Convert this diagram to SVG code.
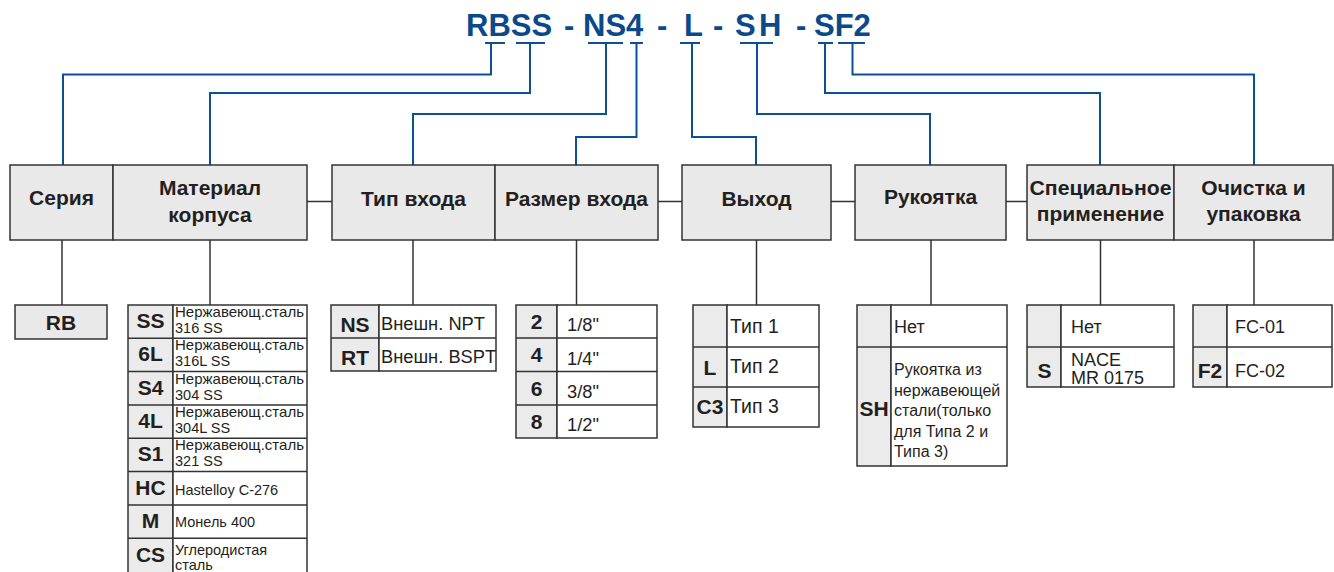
<svg xmlns="http://www.w3.org/2000/svg" width="1334" height="572" viewBox="0 0 1334 572">
<style>
.bg{fill:#ffffff}
.hdr{fill:#e9e9e9;stroke:#333;stroke-width:1.5}
.cell{fill:#ffffff;stroke:#333;stroke-width:1.5}
.code{fill:#ebebeb;stroke:#333;stroke-width:1.5}
.blue{fill:none;stroke:#0b4f94;stroke-width:2}
.gray{fill:none;stroke:#333;stroke-width:1.5}
.title{font-family:"Liberation Sans",Arial,sans-serif;font-weight:bold;font-size:31px;fill:#0b4a8a}
.ht{font-family:"Liberation Sans",Arial,sans-serif;font-weight:bold;font-size:21px;fill:#231f20;text-anchor:middle}
.ct{font-family:"Liberation Sans",Arial,sans-serif;font-weight:bold;font-size:21px;fill:#231f20;text-anchor:middle}
.dt{font-family:"Liberation Sans",Arial,sans-serif;font-size:18.3px;fill:#231f20}
.dm{font-family:"Liberation Sans",Arial,sans-serif;font-size:14.5px;fill:#231f20}
.dh{font-family:"Liberation Sans",Arial,sans-serif;font-size:16px;fill:#231f20}
.d18{font-family:"Liberation Sans",Arial,sans-serif;font-size:18px;fill:#231f20}
.d19{font-family:"Liberation Sans",Arial,sans-serif;font-size:19.5px;fill:#231f20}
</style>
<rect class="bg" x="0" y="0" width="1334" height="572"/>

<g id="title">
<text class="title" x="466" y="36">RBSS</text>
<text class="title" x="564" y="36">-</text>
<text class="title" x="583" y="36">NS4</text>
<text class="title" x="657" y="36">-</text>
<text class="title" x="684" y="36">L</text>
<text class="title" x="713" y="36">-</text>
<text class="title" x="735" y="36">S</text>
<text class="title" x="759" y="36">H</text>
<text class="title" x="796" y="36">-</text>
<text class="title" x="814" y="36">SF2</text>
</g>

<g id="connectors">
<path class="blue" d="M485 43H505M491 43V74.5H63V165"/>
<path class="blue" d="M516 43H545M530 43V93H210V165"/>
<path class="blue" d="M588 43H623M606 43V114H413V165"/>
<path class="blue" d="M630 43H643M636.5 43V137H576V165"/>
<path class="blue" d="M680 43H700M692 43V137H756V165"/>
<path class="blue" d="M740 43H773M757 43V114H930V165"/>
<path class="blue" d="M818 43H833M825 43V93H1100V165"/>
<path class="blue" d="M838 43H865M852.5 43V74.5H1254V165"/>
<path class="gray" d="M307 201.5H332M658 201.5H682M831 201.5H855M1006 201.5H1027"/>
<path class="gray" d="M62 240V305M210 240V305M413 240V305M576.5 240V305M756.5 240V305M931 240V305M1100.5 240V305M1254 240V305"/>
</g>

<g id="hdr-seria">
<rect class="hdr" x="10" y="165" width="103" height="75"/>
<text class="ht" x="61.5" y="205">Серия</text>
</g>
<g id="hdr-material">
<rect class="hdr" x="113" y="165" width="194" height="75"/>
<text class="ht" x="210" y="195">Материал</text>
<text class="ht" x="210" y="222">корпуса</text>
</g>
<g id="hdr-inlettype">
<rect class="hdr" x="332" y="165" width="163" height="75"/>
<text class="ht" x="413.5" y="206">Тип входа</text>
</g>
<g id="hdr-inletsize">
<rect class="hdr" x="495" y="165" width="163" height="75"/>
<text class="ht" x="576.5" y="206">Размер входа</text>
</g>
<g id="hdr-outlet">
<rect class="hdr" x="682" y="165" width="149" height="75"/>
<text class="ht" x="756.5" y="206">Выход</text>
</g>
<g id="hdr-handle">
<rect class="hdr" x="855" y="165" width="151" height="75"/>
<text class="ht" x="930.5" y="204">Рукоятка</text>
</g>
<g id="hdr-special">
<rect class="hdr" x="1027" y="165" width="147" height="75"/>
<text class="ht" x="1100.5" y="195" textLength="142" lengthAdjust="spacingAndGlyphs">Специальное</text>
<text class="ht" x="1100.5" y="221">применение</text>
</g>
<g id="hdr-clean">
<rect class="hdr" x="1174" y="165" width="159" height="75"/>
<text class="ht" x="1253.5" y="195">Очистка и</text>
<text class="ht" x="1253.5" y="221">упаковка</text>
</g>

<g id="opt-seria">
<rect class="hdr" x="15" y="305" width="92" height="34"/>
<text class="ct" x="61" y="330">RB</text>
</g>

<g id="opt-material">
<rect class="code" x="128" y="305" width="45" height="270"/>
<rect class="cell" x="173" y="305" width="134" height="270"/>
<path class="gray" d="M128 338.3H307M128 371.6H307M128 405H307M128 438.3H307M128 471.6H307M128 505H307M128 538.3H307"/>
<text class="ct" x="150.5" y="328">SS</text>
<text class="dm" x="175" y="317" textLength="129" lengthAdjust="spacingAndGlyphs">Нержавеющ.сталь</text>
<text class="dm" x="175" y="333">316 SS</text>
<text class="ct" x="150.5" y="361.3">6L</text>
<text class="dm" x="175" y="350.3" textLength="129" lengthAdjust="spacingAndGlyphs">Нержавеющ.сталь</text>
<text class="dm" x="175" y="366.3">316L SS</text>
<text class="ct" x="150.5" y="394.6">S4</text>
<text class="dm" x="175" y="383.6" textLength="129" lengthAdjust="spacingAndGlyphs">Нержавеющ.сталь</text>
<text class="dm" x="175" y="399.6">304 SS</text>
<text class="ct" x="150.5" y="428">4L</text>
<text class="dm" x="175" y="417" textLength="129" lengthAdjust="spacingAndGlyphs">Нержавеющ.сталь</text>
<text class="dm" x="175" y="433">304L SS</text>
<text class="ct" x="150.5" y="461.3">S1</text>
<text class="dm" x="175" y="450.3" textLength="129" lengthAdjust="spacingAndGlyphs">Нержавеющ.сталь</text>
<text class="dm" x="175" y="466.3">321 SS</text>
<text class="ct" x="150.5" y="495">HC</text>
<text class="dm" x="175" y="495">Hastelloy C-276</text>
<text class="ct" x="150.5" y="528.3">M</text>
<text class="dm" x="175" y="527.3">Монель 400</text>
<text class="ct" x="150.5" y="562">CS</text>
<text class="dm" x="175" y="555">Углеродистая</text>
<text class="dm" x="175" y="570">сталь</text>
</g>

<g id="opt-inlettype">
<rect class="code" x="331" y="305" width="48" height="66"/>
<rect class="cell" x="379" y="305" width="117" height="66"/>
<path class="gray" d="M331 338H496"/>
<text class="ct" x="355" y="332">NS</text>
<text class="dt" x="381" y="330">Внешн. NPT</text>
<text class="ct" x="355" y="365">RT</text>
<text class="dt" x="381" y="363">Внешн. BSPT</text>
</g>

<g id="opt-inletsize">
<rect class="code" x="516" y="305" width="41" height="133"/>
<rect class="cell" x="557" y="305" width="100" height="133"/>
<path class="gray" d="M516 338H657M516 371.5H657M516 405H657"/>
<text class="ct" x="536.5" y="329">2</text>
<text class="dt" x="567" y="331">1/8"</text>
<text class="ct" x="536.5" y="362">4</text>
<text class="dt" x="567" y="364.5">1/4"</text>
<text class="ct" x="536.5" y="395.5">6</text>
<text class="dt" x="567" y="398">3/8"</text>
<text class="ct" x="536.5" y="429">8</text>
<text class="dt" x="567" y="431">1/2"</text>
</g>

<g id="opt-outlet">
<rect class="code" x="693" y="305" width="34" height="122"/>
<rect class="cell" x="727" y="305" width="92" height="122"/>
<path class="gray" d="M693 347H819M693 387H819"/>
<text class="d19" x="730" y="333">Тип 1</text>
<text class="ct" x="710" y="375">L</text>
<text class="d19" x="730" y="373">Тип 2</text>
<text class="ct" x="710" y="414">C3</text>
<text class="d19" x="730" y="413">Тип 3</text>
</g>

<g id="opt-handle">
<rect class="code" x="857" y="305" width="34" height="161"/>
<rect class="cell" x="891" y="305" width="116" height="161"/>
<path class="gray" d="M857 347H1007"/>
<text class="d18" x="894" y="333">Нет</text>
<text class="ct" x="874" y="416">SH</text>
<text class="dh" x="894" y="375">Рукоятка из</text>
<text class="dh" x="894" y="395.5">нержавеющей</text>
<text class="dh" x="894" y="416">стали(только</text>
<text class="dh" x="894" y="436.5">для Типа 2 и</text>
<text class="dh" x="894" y="457">Типа 3)</text>
</g>

<g id="opt-special">
<rect class="code" x="1027" y="305" width="34" height="82"/>
<rect class="cell" x="1061" y="305" width="113" height="82"/>
<path class="gray" d="M1027 347H1174"/>
<text class="d18" x="1071" y="333">Нет</text>
<text class="ct" x="1044.5" y="378">S</text>
<text class="d18" x="1071" y="366">NACE</text>
<text class="d18" x="1071" y="384">MR 0175</text>
</g>

<g id="opt-clean">
<rect class="code" x="1193" y="305" width="34" height="82"/>
<rect class="cell" x="1227" y="305" width="105" height="82"/>
<path class="gray" d="M1193 347H1332"/>
<text class="d18" x="1235" y="333">FC-01</text>
<text class="ct" x="1210" y="378">F2</text>
<text class="d18" x="1235" y="377">FC-02</text>
</g>
</svg>
